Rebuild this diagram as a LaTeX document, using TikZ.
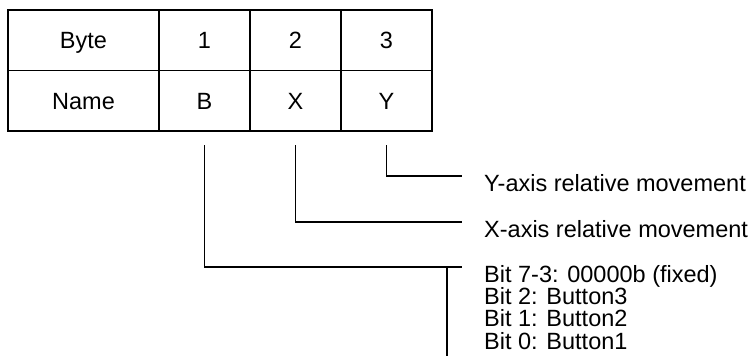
\documentclass[tikz,border=0pt]{standalone}
\usepackage{fontspec}
\setmainfont{Liberation Sans}
\usetikzlibrary{positioning}

\begin{document}
\begin{tikzpicture}[x=1pt,y=-1pt]
\tikzset{cell/.style = {draw, line width=1.4pt, outer sep=0pt, inner sep=0pt, minimum height=60.5pt,
            text height=17pt, text depth=0pt, font=\fontsize{23.5}{22.3}\selectfont},
         wide/.style = {cell, minimum width=151pt},
         narrow/.style = {cell, minimum width=91pt},
         note/.style = {anchor=base west, inner sep=0pt, align=left, font=\fontsize{23.5}{22.3}\selectfont},
         link/.style = {line width=1.4pt}}
\useasboundingbox (0,0) rectangle (756,356);
            % table
	\node[wide] (byte) at (83.5,40.25) {Byte};
	\node[narrow] (one) at (204.5,40.25) {1};
	\node[narrow] (two) at (295.5,40.25) {2};
	\node[narrow] (three) at (386.5,40.25) {3};
	\node[wide] (name) at (83.5,100.75) {Name};
	\node[narrow] (b) at (204.5,100.75) {B};
	\node[narrow] (x) at (295.5,100.75) {X};
	\node[narrow] (y) at (386.5,100.75) {Y};
            % notes
	\node[note] (ytext) at (484,191) {Y-axis relative movement};
	\node[note] (xtext) at (484,237) {X-axis relative movement};
	\node[note, anchor=north west] (btext) at (484,265) {Bit 7-3: 00000b (fixed)\\Bit 2: Button3\\Bit 1: Button2\\Bit 0: Button1};
	\coordinate (bjoin) at ([xshift=-37pt,yshift=-2pt]btext.north west);
	\coordinate (bbottom) at (447,356);
            %edges
	\draw[link] ([yshift=-14pt]y.south) |- ([xshift=-22pt,yshift=15pt]ytext.base west);
	\draw[link] ([yshift=-14pt]x.south) |- ([xshift=-22pt,yshift=15pt]xtext.base west);
	\draw[link] ([yshift=-14pt]b.south) |- ([xshift=-22pt,yshift=-2pt]btext.north west);
	\draw[link] (bjoin) -- (bbottom);
\end{tikzpicture}
\end{document}
